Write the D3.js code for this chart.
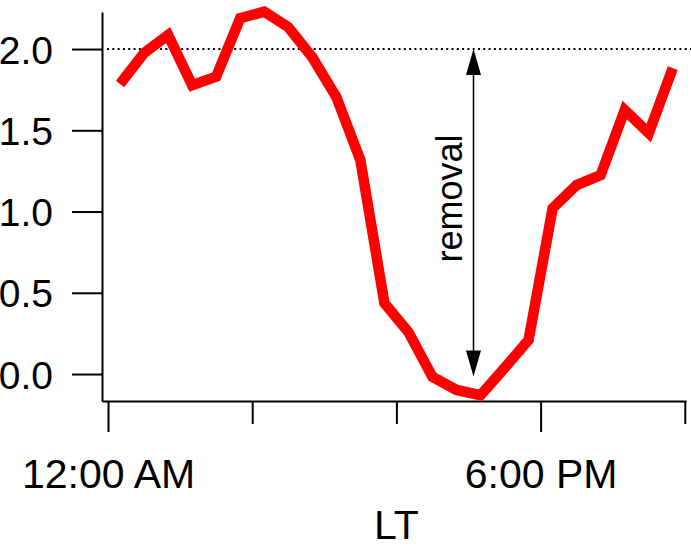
<!DOCTYPE html>
<html>
<head>
<meta charset="utf-8">
<script src="https://cdn.jsdelivr.net/npm/d3@7"></script>
<style>
  html, body { margin: 0; padding: 0; background: #fff; }
  svg { display: block; font-family: "Liberation Sans", Arial, sans-serif; }
</style>
</head>
<body>
<svg id="chart" width="691" height="547"></svg>
<script>
// Hours (local time) of each hourly-mean point
const hours = [0.5, 1.5, 2.5, 3.5, 4.5, 5.5, 6.5, 7.5, 8.5, 9.5, 10.5, 11.5,
               12.5, 13.5, 14.5, 15.5, 16.5, 17.5, 18.5, 19.5, 20.5, 21.5, 22.5, 23.5];
// Series values
const values = [1.785, 1.975, 2.086, 1.778, 1.83, 2.19, 2.23, 2.135, 1.95, 1.705, 1.317, 0.437,
                0.258, -0.018, -0.098, -0.13, 0.037, 0.21, 1.02, 1.163, 1.225, 1.625, 1.483, 1.883];
// Axis ticks
const yTicks = [0.0, 0.5, 1.0, 1.5, 2.0];
const xTicks = [0, 6, 12, 18, 24];
const xTickLabels = ["12:00 AM", "", "", "6:00 PM", ""];
const xMajor = [0, 18];
const xTitle = "LT";
// Reference level and annotation
const refLevel = 2.0;
const removalBottom = -0.015;
const removalHour = 15.2;
const removalLabelLevel = 1.08;
const removalLabel = "removal";

const svg = d3.select("#chart");

const x = d3.scaleLinear().domain([-0.25, 24.05]).range([102, 686]);
const y = d3.scaleLinear().domain([-0.166, 2.228]).range([401, 12]);

// Y axis
const yAxis = svg.append("g")
  .attr("transform", `translate(${x.range()[0]},0)`)
  .call(d3.axisLeft(y).tickValues(yTicks).tickFormat(d3.format(".1f"))
        .tickSize(30).tickSizeOuter(0).tickPadding(19));
yAxis.select(".domain").attr("stroke", "#000").attr("stroke-width", 2);
yAxis.selectAll(".tick line").attr("stroke", "#000").attr("stroke-width", 2);
yAxis.selectAll(".tick text")
  .attr("fill", "#000").attr("font-size", 39)
  .attr("font-family", "'Liberation Sans', Arial, sans-serif")
  .attr("dy", "0.36em");

// X axis
const xAxis = svg.append("g")
  .attr("transform", `translate(0,${y.range()[0]})`)
  .call(d3.axisBottom(x).tickValues(xTicks)
        .tickFormat((d, i) => xTickLabels[i])
        .tickSize(23).tickSizeOuter(0).tickPadding(0));
xAxis.select(".domain").attr("stroke", "#000").attr("stroke-width", 2);
xAxis.selectAll(".tick line").attr("stroke", "#000").attr("stroke-width", 2)
  .attr("y2", d => xMajor.includes(d) ? 31 : 23);
xAxis.selectAll(".tick text")
  .attr("fill", "#000").attr("font-size", 41)
  .attr("font-family", "'Liberation Sans', Arial, sans-serif")
  .attr("y", 87).attr("dy", 0);

// X title
svg.append("text")
  .attr("x", x(12)).attr("y", 539)
  .attr("text-anchor", "middle")
  .attr("font-size", 41).attr("fill", "#000")
  .text(xTitle);

// Dotted reference line
svg.append("line")
  .attr("x1", x(0) - 1).attr("x2", 691)
  .attr("y1", y(refLevel)).attr("y2", y(refLevel))
  .attr("stroke", "#000").attr("stroke-width", 2)
  .attr("stroke-dasharray", "2,3.3");

// Data line
const line = d3.line().x((d, i) => x(hours[i])).y(d => y(d));
svg.append("path")
  .datum(values)
  .attr("d", line)
  .attr("fill", "none")
  .attr("stroke", "#ff0000")
  .attr("stroke-width", 10.5)
  .attr("stroke-linejoin", "miter")
  .attr("stroke-linecap", "butt");

// Removal arrow
const ax = Math.round(x(removalHour)) + 0.5;
const yTop = y(refLevel), yBot = y(removalBottom);
const headL = 26, headW = 7.5;
svg.append("line")
  .attr("x1", ax).attr("x2", ax)
  .attr("y1", yTop + headL - 2).attr("y2", yBot - headL + 2)
  .attr("stroke", "#000").attr("stroke-width", 1.5);
svg.append("path")
  .attr("d", `M${ax},${yTop} L${ax - headW},${yTop + headL} L${ax + headW},${yTop + headL} Z`)
  .attr("fill", "#000");
svg.append("path")
  .attr("d", `M${ax},${yBot} L${ax - headW},${yBot - headL} L${ax + headW},${yBot - headL} Z`)
  .attr("fill", "#000");

svg.append("text")
  .attr("transform", `translate(${ax - 12},${y(removalLabelLevel)}) rotate(-90)`)
  .attr("text-anchor", "middle")
  .attr("font-size", 36).attr("fill", "#000")
  .text(removalLabel);
</script>
</body>
</html>
